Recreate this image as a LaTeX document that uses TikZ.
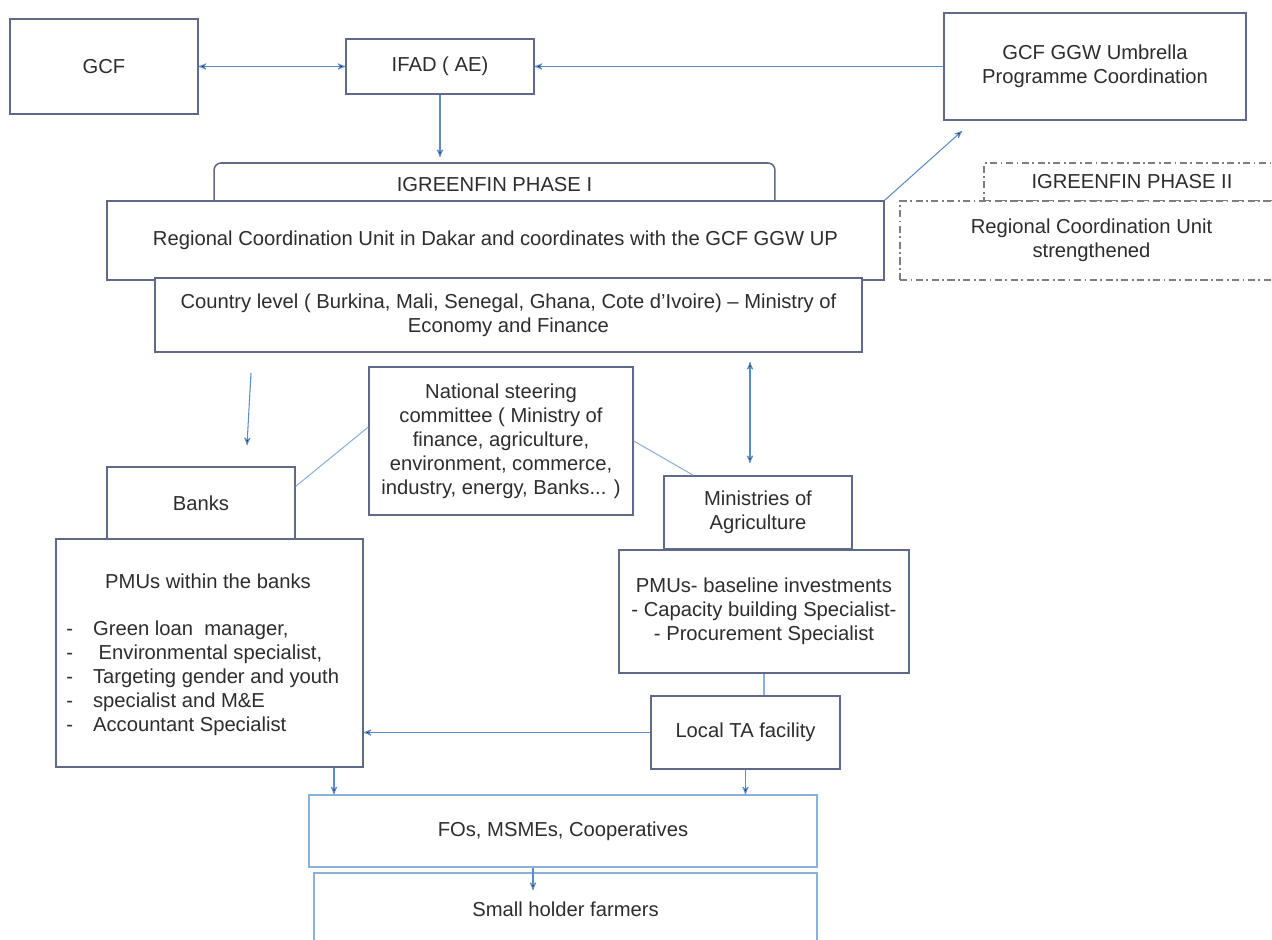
\documentclass[tikz,border=0pt]{standalone}
\usepackage{fontspec}
\setmainfont{Liberation Sans}
\usetikzlibrary{arrows}

\definecolor{boxline}{RGB}{96,106,136}
\definecolor{linkblue}{RGB}{92,140,200}
\definecolor{lightline}{RGB}{140,176,220}
\definecolor{dashgrey}{RGB}{125,125,125}
\definecolor{textgrey}{RGB}{45,45,45}

\begin{document}
\begin{tikzpicture}[x=0.02cm,y=-0.02cm,>=stealth',
                    every node/.style={font=\fontsize{11.5}{13.6}\selectfont,text=textgrey},
                    main node/.style={rectangle,draw=boxline,line width=0.9pt,fill=white,
                                      inner sep=0pt,align=center},
                    light node/.style={main node,draw=lightline},
                    dash node/.style={main node,draw=dashgrey,
                                      dash pattern=on 4pt off 2pt on 1pt off 2pt},
                    link/.style={draw=linkblue,line width=0.6pt},
                    plain/.style={draw=lightline,line width=0.6pt}]
  \useasboundingbox (0,0) rectangle (1272,940);
  % top row
  \node[main node,minimum width=3.76cm,minimum height=1.9cm] (gcf) at (104,66.5) {GCF};
  \node[main node,minimum width=3.76cm,minimum height=1.1cm] (ifad) at (440,66.5) {IFAD ( AE)};
  \node[main node,minimum width=6.04cm,minimum height=2.14cm] (ggw) at (1095,66.5)
    {GCF GGW Umbrella\\Programme Coordination};
  % phase I
  \node[main node,rounded corners=4pt,minimum width=11.22cm,minimum height=0.86cm] (phase1)
    at (494.5,184.5) {IGREENFIN PHASE I};
  \node[main node,minimum width=15.54cm,minimum height=1.58cm] (rcu) at (495.5,240.5)
    {Regional Coordination Unit in Dakar and coordinates with the GCF GGW UP};
  % phase II
  \node[dash node,minimum width=5.92cm,minimum height=0.76cm] (phase2) at (1132,182)
    {IGREENFIN PHASE II};
  \node[dash node,minimum width=7.66cm,minimum height=1.58cm] (rcu2) at (1091.5,240.5)
    {Regional Coordination Unit\\strengthened};
  % country level
  \node[main node,minimum width=14.14cm,minimum height=1.48cm] (country) at (508.5,315)
    {Country level ( Burkina, Mali, Senegal, Ghana, Cote d'Ivoire) -- Ministry of\\Economy and Finance};
  \node[main node,minimum width=5.28cm,minimum height=2.96cm] (nsc) at (501,441)
    {National steering\\committee ( Ministry of\\finance, agriculture,\\environment, commerce,\\industry, energy, Banks... )};
  \node[main node,minimum width=3.76cm,minimum height=1.44cm] (banks) at (201,503) {Banks};
  \node[main node,minimum width=3.76cm,minimum height=1.46cm] (mina) at (758,512.5)
    {Ministries of\\Agriculture};
  % PMUs
  \node[main node,minimum width=6.14cm,minimum height=4.56cm] (pmub) at (209.5,653) {};
  \node (pmubhead) at (208,581) {PMUs within the banks};
  \node[anchor=west,inner sep=0pt] (pmublist) at (66,679)
    {\begin{tabular}{@{}l@{\hspace{11.4pt}}l@{}}
      - & Green loan\ \ manager,\\
      - & \ Environmental specialist,\\
      - & Targeting gender and youth\\
      - & specialist and M\&E\\
      - & Accountant Specialist
    \end{tabular}};
  \node[main node,minimum width=5.8cm,minimum height=2.46cm] (pmua) at (764,611.5)
    {PMUs- baseline investments\\- Capacity building Specialist-\\- Procurement Specialist};
  \node[main node,minimum width=3.78cm,minimum height=1.46cm] (lta) at (745.5,732.5)
    {Local TA facility};
  % beneficiaries
  \node[light node,minimum width=10.16cm,minimum height=1.44cm] (fos) at (563,831)
    {FOs, MSMEs, Cooperatives};
  \node[light node,minimum width=10.06cm,minimum height=1.44cm] (shf) at (565.5,909)
    {Small holder farmers};

  \coordinate (ifadend) at (440,157);
  \coordinate (ggwend) at (962,131);
  \coordinate (bankstop) at (251,373);
  \coordinate (banksend) at (247,445);
  \coordinate (minatop) at (750,362);
  \coordinate (minaend) at (750,463);
  \coordinate (fosin) at (334,800);
  \coordinate (shfend) at (533,890);

  \path[link]
    (gcf) edge [<->] (ifad)
    (ggw) edge [->] (ifad)
    (ifad) edge [->] (ifadend)
    (rcu.north east) edge [->] (ggwend)
    (bankstop) edge [->] (banksend)
    (minatop) edge [<->] (minaend)
    (lta.west) edge [->] (lta.west -| pmub.east)
    (pmub.south -| fosin) edge [->] (fos.north -| fosin)
    (lta.south) edge [->] (lta.south |- fos.north)
    (fos.south -| shfend) edge [->] (shfend);
  \path[plain]
    (banks.10) edge (nsc.174)
    (nsc.east) edge ([xshift=0.6cm]mina.north west)
    (pmua.south) edge (pmua.south |- lta.north);
\end{tikzpicture}
\end{document}
